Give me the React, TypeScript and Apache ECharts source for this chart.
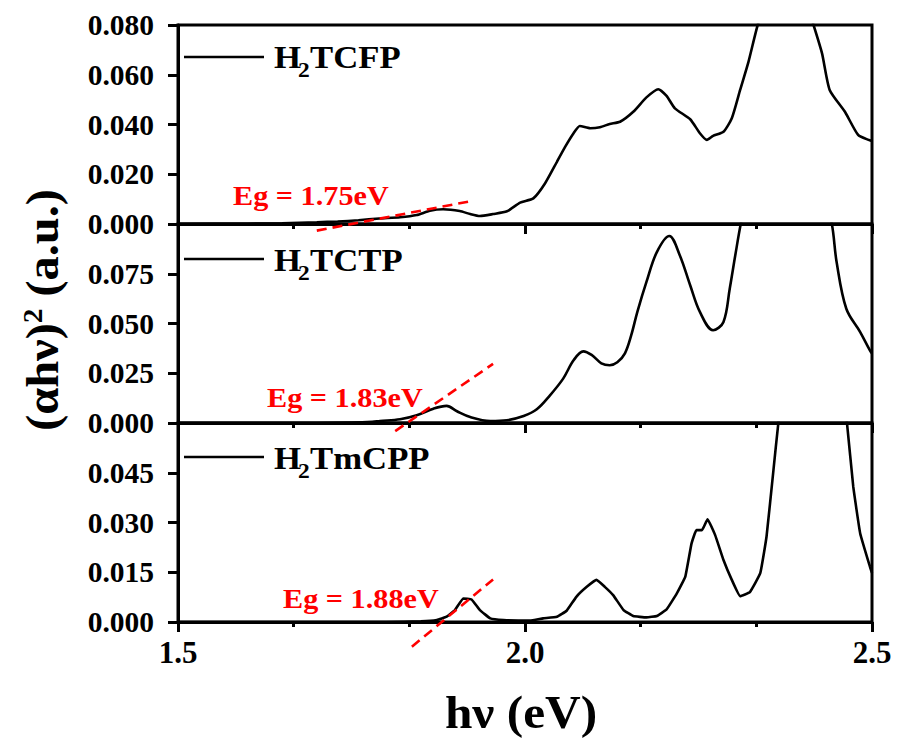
import React, { useEffect, useRef } from "react";
import * as echarts from "echarts";

// Photon energy (eV) and Tauc values (αhν)² for each porphyrin
const tcfpX = [1.50, 1.60, 1.65, 1.70, 1.73, 1.76, 1.79, 1.82, 1.844, 1.863, 1.882, 1.906, 1.921, 1.935, 1.954, 1.974, 1.993, 2.012, 2.029, 2.046, 2.058, 2.070, 2.079, 2.094, 2.108, 2.122, 2.137, 2.156, 2.175, 2.192, 2.204, 2.216, 2.238, 2.252, 2.262, 2.271, 2.286, 2.298, 2.310, 2.322, 2.336, 2.355, 2.375, 2.395, 2.415, 2.428, 2.439, 2.461, 2.480, 2.495, 2.500];
const tcfpY = [0.0000, 0.0001, 0.0003, 0.0007, 0.0010, 0.0015, 0.0022, 0.0027, 0.0036, 0.0053, 0.0059, 0.0052, 0.0040, 0.0032, 0.0040, 0.0051, 0.0086, 0.0103, 0.0164, 0.0250, 0.0311, 0.0365, 0.0394, 0.0385, 0.0389, 0.0402, 0.0411, 0.0451, 0.0509, 0.0542, 0.0515, 0.0465, 0.0421, 0.0365, 0.0338, 0.0354, 0.0371, 0.0425, 0.0539, 0.0652, 0.0807, 0.0950, 0.1050, 0.0980, 0.0807, 0.0686, 0.0539, 0.0451, 0.0358, 0.0338, 0.0334];

const tctpX = [1.50, 1.70, 1.75, 1.78, 1.791, 1.820, 1.844, 1.868, 1.887, 1.902, 1.921, 1.950, 1.974, 1.998, 2.017, 2.036, 2.055, 2.070, 2.084, 2.096, 2.110, 2.122, 2.133, 2.144, 2.153, 2.162, 2.175, 2.190, 2.208, 2.223, 2.238, 2.252, 2.271, 2.286, 2.295, 2.303, 2.311, 2.340, 2.375, 2.410, 2.442, 2.449, 2.463, 2.483, 2.497, 2.500];
const tctpY = [0.0000, 0.0000, 0.0002, 0.0006, 0.0010, 0.0019, 0.0039, 0.0072, 0.0086, 0.0059, 0.0030, 0.0010, 0.0014, 0.0035, 0.0069, 0.0139, 0.0223, 0.0315, 0.0360, 0.0342, 0.0300, 0.0290, 0.0305, 0.0350, 0.0440, 0.0560, 0.0709, 0.0859, 0.0940, 0.0843, 0.0692, 0.0558, 0.0466, 0.0508, 0.0675, 0.0843, 0.1002, 0.1500, 0.1700, 0.1500, 0.1002, 0.0809, 0.0574, 0.0457, 0.0365, 0.0350];

const tmcppX = [1.50, 1.80, 1.85, 1.873, 1.887, 1.899, 1.911, 1.923, 1.935, 1.950, 1.969, 2.007, 2.026, 2.046, 2.060, 2.074, 2.089, 2.103, 2.115, 2.127, 2.142, 2.156, 2.175, 2.190, 2.204, 2.219, 2.231, 2.240, 2.247, 2.255, 2.263, 2.274, 2.286, 2.298, 2.310, 2.324, 2.339, 2.348, 2.358, 2.365, 2.390, 2.415, 2.440, 2.464, 2.473, 2.483, 2.497, 2.500];
const tmcppY = [0.0000, 0.0000, 0.0002, 0.0006, 0.0016, 0.0036, 0.0071, 0.0068, 0.0036, 0.0011, 0.0006, 0.0004, 0.0011, 0.0016, 0.0034, 0.0076, 0.0106, 0.0127, 0.0106, 0.0081, 0.0036, 0.0018, 0.0014, 0.0018, 0.0038, 0.0087, 0.0137, 0.0237, 0.0277, 0.0277, 0.0310, 0.0262, 0.0187, 0.0127, 0.0078, 0.0090, 0.0147, 0.0257, 0.0458, 0.0599, 0.1000, 0.1100, 0.1000, 0.0599, 0.0408, 0.0267, 0.0167, 0.0148];

// Band-gap extrapolations: x-intercept (Eg), slope and drawn extent of each tangent
const bandGap = [1.75, 1.83, 1.88];
const tangentSlope = [0.0534, 0.2397, 0.1736];
const tangentFrom = [1.700, 1.813, 1.837];
const tangentTo = [1.923, 1.954, 1.954];

// Panel y ranges and tick steps
const yMax = [0.08, 0.1, 0.06];
const yStep = [0.02, 0.025, 0.015];
const showTopLabel = [true, false, false];

const xTicks = { min: 1.5, max: 2.5, step: 0.5 };

const FONT = '"Liberation Serif", "Times New Roman", Times, serif';

const pairs = (xs: number[], ys: number[]) => xs.map((x, i) => [x, ys[i]]);

export default function App() {
  const ref = useRef<HTMLDivElement>(null);

  useEffect(() => {
    if (!ref.current) return;
    const chart = echarts.init(ref.current, undefined, { renderer: "svg" });

    const gridTops = [25, 224, 423];
    const grids = gridTops.map((top) => ({
      left: 178,
      width: 694,
      top,
      height: 199,
      show: true,
      borderColor: "#000",
      borderWidth: 3,
      backgroundColor: "transparent",
    }));

    const xAxes = [0, 1, 2].map((i) => ({
      type: "value",
      gridIndex: i,
      min: xTicks.min,
      max: xTicks.max,
      interval: xTicks.step,
      axisLine: { lineStyle: { color: "#000", width: 3 } },
      axisTick: { show: true, inside: false, length: 10, lineStyle: { color: "#000", width: 3 } },
      minorTick: { show: true, splitNumber: 3, length: 5, lineStyle: { color: "#000", width: 3 } },
      splitLine: { show: false },
      axisLabel: {
        show: i === 2,
        margin: 15,
        color: "#000",
        fontFamily: FONT,
        fontWeight: "bold",
        fontSize: 31,
        formatter: (v: number) => v.toFixed(1),
      },
    }));

    const yAxes = [0, 1, 2].map((i) => ({
      type: "value",
      gridIndex: i,
      min: 0,
      max: yMax[i],
      interval: yStep[i],
      axisLine: { show: true, lineStyle: { color: "#000", width: 3 } },
      axisTick: { show: true, inside: false, length: 10, lineStyle: { color: "#000", width: 3 } },
      splitLine: { show: false },
      axisLabel: {
        margin: 24,
        color: "#000",
        fontFamily: FONT,
        fontWeight: "bold",
        fontSize: 29.5,
        formatter: (v: number) =>
          !showTopLabel[i] && Math.abs(v - yMax[i]) < 1e-9 ? "" : v.toFixed(3),
      },
    }));

    const curves = [
      { name: "H2TCFP", data: pairs(tcfpX, tcfpY), smooth: 0.2 },
      { name: "H2TCTP", data: pairs(tctpX, tctpY), smooth: 0.35 },
      { name: "H2TmCPP", data: pairs(tmcppX, tmcppY), smooth: 0.1 },
    ].map((c, i) => ({
      type: "line",
      name: c.name,
      xAxisIndex: i,
      yAxisIndex: i,
      data: c.data,
      smooth: c.smooth,
      showSymbol: false,
      symbol: "none",
      lineStyle: { color: "#000", width: 2.6 },
      z: 3,
    }));

    const tangents = bandGap.map((eg, i) => ({
      type: "line",
      name: "Eg" + i,
      xAxisIndex: i,
      yAxisIndex: i,
      clip: false,
      showSymbol: false,
      symbol: "none",
      data: [tangentFrom[i], tangentTo[i]].map((x) => [x, tangentSlope[i] * (x - eg)]),
      lineStyle: { color: "#ff0000", width: 2.6, type: [10, 6] },
      z: 4,
    }));

    // Legend rows: sample line + name with subscript
    const legendRows = [
      { y: 57, name: "TCFP", baseline: 68 },
      { y: 259, name: "TCTP", baseline: 271 },
      { y: 457, name: "TmCPP", baseline: 469 },
    ];
    const legendFont = 31;
    const subFont = 21;
    const stretch = 1.12;
    const legendGraphics: any[] = [];
    legendRows.forEach((r) => {
      legendGraphics.push({
        type: "line",
        shape: { x1: 184, y1: r.y, x2: 264, y2: r.y },
        style: { stroke: "#000", lineWidth: 2.6 },
      });
      legendGraphics.push({
        type: "text",
        x: 274,
        y: r.baseline - 0.34 * legendFont,
        scaleX: stretch,
        style: { text: "H", fontFamily: FONT, fontWeight: "bold", fontSize: legendFont, fill: "#000", align: "left", verticalAlign: "middle" },
      });
      legendGraphics.push({
        type: "text",
        x: 298,
        y: r.baseline + 9 - 0.34 * subFont,
        scaleX: stretch,
        style: { text: "2", fontFamily: FONT, fontWeight: "bold", fontSize: subFont, fill: "#000", align: "left", verticalAlign: "middle" },
      });
      legendGraphics.push({
        type: "text",
        x: 310,
        y: r.baseline - 0.34 * legendFont,
        scaleX: stretch,
        style: { text: r.name, fontFamily: FONT, fontWeight: "bold", fontSize: legendFont, fill: "#000", align: "left", verticalAlign: "middle" },
      });
    });

    const egFont = 27;
    const egLabels = [
      { x: 233, baseline: 205 },
      { x: 267, baseline: 407 },
      { x: 283, baseline: 608 },
    ].map((p, i) => ({
      type: "text",
      x: p.x,
      y: p.baseline - 0.34 * egFont,
      scaleX: stretch,
      style: {
        text: `Eg = ${bandGap[i].toFixed(2)}eV`,
        fontFamily: FONT,
        fontWeight: "bold",
        fontSize: egFont,
        fill: "#ff0000",
        align: "left",
        verticalAlign: "middle",
      },
    }));

    chart.setOption({
      animation: false,
      grid: grids,
      xAxis: xAxes,
      yAxis: yAxes,
      series: [...curves, ...tangents],
      graphic: [
        ...legendGraphics,
        ...egLabels,
        {
          type: "text",
          x: 521,
          y: 712,
          scaleX: 1.05,
          style: {
            text: "hν (eV)",
            fontFamily: FONT,
            fontWeight: "bold",
            fontSize: 47,
            fill: "#000",
            align: "center",
            verticalAlign: "middle",
          },
        },
        {
          type: "text",
          x: 42,
          y: 310,
          rotation: Math.PI / 2,
          scaleX: 1.05,
          style: {
            text: "{n|(αhν)}{s|2}{n| (a.u.)}",
            align: "center",
            verticalAlign: "middle",
            rich: {
              n: { fontFamily: FONT, fontWeight: "bold", fontSize: 46, fill: "#000", lineHeight: 48 },
              s: { fontFamily: FONT, fontWeight: "bold", fontSize: 28, fill: "#000", verticalAlign: "top", lineHeight: 31 },
            },
          },
        },
      ],
    });

    return () => chart.dispose();
  }, []);

  return (
    <div
      ref={ref}
      style={{ position: "fixed", left: 0, top: 0, width: 900, height: 742, background: "#fff" }}
    />
  );
}
